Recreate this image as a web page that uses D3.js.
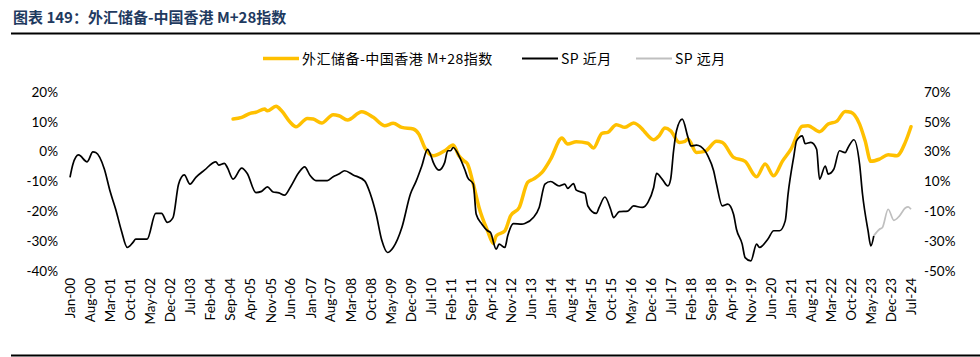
<!DOCTYPE html>
<html><head><meta charset="utf-8">
<script src="https://cdn.jsdelivr.net/npm/d3@7"></script>
<style>
html,body{margin:0;padding:0;background:#fff;}
svg{display:block;}
</style></head>
<body>
<svg id="chart" width="980" height="357"></svg>
<script>
// ---- data ----
const titleText = "图表 149：外汇储备-中国香港 M+28指数";
const seriesNames = ["外汇储备-中国香港 M+28指数", "SP 近月", "SP 远月"];
const tickLabels = ["Jan-00","Aug-00","Mar-01","Oct-01","May-02","Dec-02","Jul-03","Feb-04","Sep-04","Apr-05","Nov-05","Jun-06","Jan-07","Aug-07","Mar-08","Oct-08","May-09","Dec-09","Jul-10","Feb-11","Sep-11","Apr-12","Nov-12","Jun-13","Jan-14","Aug-14","Mar-15","Oct-15","May-16","Dec-16","Jul-17","Feb-18","Sep-18","Apr-19","Nov-19","Jun-20","Jan-21","Aug-21","Mar-22","Oct-22","May-23","Dec-23","Jul-24"];
const leftTicks = [20,10,0,-10,-20,-30,-40];
const rightTicks = [70,50,30,10,-10,-30,-50];

// SP 近月 (left axis, %)
const spNearDates = ["2000-01","2000-02","2000-04","2000-07","2000-09","2000-10","2001-01","2001-03","2001-05","2001-07","2001-09","2001-11","2001-12","2002-04","2002-07","2002-09","2002-11","2003-01","2003-03","2003-05","2003-07","2003-09","2003-12","2004-04","2004-05","2004-07","2004-08","2004-10","2005-01","2005-03","2005-06","2005-08","2005-10","2005-12","2006-02","2006-04","2006-06","2006-09","2006-11","2007-01","2007-03","2007-07","2007-09","2007-11","2008-01","2008-04","2008-08","2008-10","2008-12","2009-02","2009-04","2009-06","2009-09","2009-12","2010-02","2010-04","2010-06","2010-07","2010-08","2010-10","2010-12","2011-01","2011-02","2011-03","2011-05","2011-07","2011-08","2011-10","2011-11","2012-01","2012-03","2012-04","2012-06","2012-07","2012-09","2012-10","2012-12","2013-03","2013-04","2013-07","2013-09","2013-11","2014-01","2014-04","2014-06","2014-07","2014-09","2014-10","2015-01","2015-02","2015-05","2015-06","2015-08","2015-10","2015-11","2016-01","2016-04","2016-06","2016-09","2016-11","2017-01","2017-02","2017-04","2017-06","2017-07","2017-08","2017-09","2017-11","2018-01","2018-02","2018-04","2018-07","2018-08","2018-10","2018-11","2019-01","2019-03","2019-05","2019-06","2019-08","2019-09","2019-11","2020-01","2020-02","2020-05","2020-07","2020-09","2020-11","2020-12","2021-02","2021-03","2021-05","2021-06","2021-08","2021-10","2021-11","2022-01","2022-02","2022-04","2022-06","2022-08","2022-09","2022-11","2023-01","2023-02","2023-04","2023-05","2023-06"];
const spNearValues = [-8.6,-4.2,-1.1,-3.4,-0.1,-0.3,-5.9,-13.1,-19.3,-26.5,-32.1,-30.4,-29.3,-29.3,-20.7,-20.7,-23.7,-22.1,-10.9,-7.8,-10.9,-8.6,-6.2,-3.4,-4.5,-3.9,-5.3,-9.2,-5.5,-7.3,-13.7,-13.3,-11.8,-13.5,-13.8,-14.6,-12.0,-7.0,-5.1,-8.1,-9.7,-9.7,-8.4,-7.5,-6.4,-7.8,-9.8,-14.2,-20.9,-29.9,-33.8,-32.1,-25.4,-14.2,-9.8,-4.8,0.8,-0.8,-3.6,-6.2,-3.6,0.3,0.3,1.4,-1.4,-5.9,-8.6,-10.9,-21.0,-24.3,-26.5,-27.1,-32.7,-31.0,-32.1,-28.2,-24.1,-24.3,-24.1,-22.1,-18.7,-10.9,-10.0,-11.5,-10.9,-12.3,-10.7,-12.9,-14.0,-18.2,-20.7,-18.7,-15.2,-19.3,-22.1,-20.1,-19.9,-18.2,-18.7,-17.0,-12.0,-7.3,-9.2,-11.5,-9.2,0.3,7.0,10.9,4.8,1.9,2.2,0.3,-1.4,-6.4,-10.9,-18.2,-17.6,-21.0,-26.0,-31.0,-35.5,-36.6,-31.0,-32.1,-29.3,-26.5,-26.5,-23.2,-14.2,-1.4,3.6,5.3,2.7,3.1,0.8,-9.2,-4.8,-7.5,-5.9,0.3,-0.3,1.4,4.0,-4.2,-14.2,-26.5,-31.6,-28.2];

// SP 远月 (left axis, %)
const spFarDates = ["2023-06","2023-08","2023-09","2023-11","2024-01","2024-03","2024-05","2024-06","2024-07"];
const spFarValues = [-28.2,-26.0,-25.4,-19.3,-23.0,-21.5,-18.9,-18.5,-19.3];

// 外汇储备-中国香港 M+28指数 (right axis, %)
const fxDates = ["2004-10","2005-01","2005-04","2005-06","2005-09","2005-10","2006-01","2006-03","2006-06","2006-08","2006-12","2007-02","2007-05","2007-09","2007-11","2008-02","2008-07","2008-11","2009-03","2009-06","2009-09","2010-01","2010-03","2010-05","2010-08","2010-12","2011-03","2011-05","2011-07","2011-08","2011-10","2011-12","2012-03","2012-05","2012-06","2012-09","2012-11","2013-02","2013-05","2013-07","2013-10","2014-01","2014-05","2014-07","2014-10","2015-02","2015-04","2015-07","2015-09","2015-12","2016-03","2016-06","2016-09","2016-10","2017-01","2017-03","2017-05","2017-07","2017-10","2017-12","2018-01","2018-04","2018-07","2018-11","2019-01","2019-05","2019-09","2020-01","2020-04","2020-07","2020-10","2021-01","2021-05","2021-07","2021-11","2022-02","2022-05","2022-08","2022-10","2023-01","2023-03","2023-05","2023-08","2023-11","2024-02","2024-05","2024-07"];
const fxValues = [51.9,53.0,55.7,56.4,58.6,57.4,60.4,57.4,49.7,46.7,52.3,51.9,49.2,54.8,54.1,51.2,56.8,53.0,47.4,49.0,46.3,45.2,41.8,32.9,27.2,30.6,34.4,27.2,23.5,21.7,8.3,-7.4,-23.1,-31.5,-26.4,-23.1,-13.0,-7.4,9.4,11.6,16.1,25.0,39.1,35.1,36.6,35.6,32.4,42.3,43.0,48.1,46.3,49.2,45.2,43.0,38.0,40.7,45.8,44.0,36.2,36.9,38.5,29.5,30.2,36.9,36.2,26.2,23.5,13.2,21.7,13.8,23.5,31.7,47.0,47.4,43.4,48.5,50.3,57.0,56.4,48.5,37.3,23.5,25.0,27.9,27.2,36.2,46.7];

// ---- drawing ----
const svg = d3.select("#chart");
const parse = d3.timeParse("%Y-%m");
const lbl = d3.timeParse("%b-%y");

const x = d3.scaleTime()
  .domain([parse("2000-01"), parse("2024-07")])
  .range([70, 911]);
const yL = d3.scaleLinear().domain([-40, 20]).range([271, 92]);
const yR = d3.scaleLinear().domain([-50, 70]).range([271, 92]);

// title
svg.append("text")
  .attr("x", 13).attr("y", 23)
  .attr("font-family", "'Noto Sans CJK SC', 'Noto Sans', sans-serif")
  .attr("font-size", 15).attr("font-weight", "bold")
  .attr("fill", "#1F3A5F")
  .text(titleText);
svg.append("line").attr("x1", 11).attr("x2", 980).attr("y1", 33.5).attr("y2", 33.5)
  .attr("stroke", "#000").attr("stroke-width", 2);
svg.append("line").attr("x1", 11).attr("x2", 980).attr("y1", 355.5).attr("y2", 355.5)
  .attr("stroke", "#000").attr("stroke-width", 2);

const tickFont = "'Lato', 'DejaVu Sans', sans-serif";

// left axis
const axL = d3.axisLeft(yL).tickValues(leftTicks).tickSize(0).tickPadding(0)
  .tickFormat(d => d + "%");
const gL = svg.append("g").attr("transform", "translate(58,0)").call(axL);
gL.select(".domain").remove();
gL.selectAll("text").attr("font-family", tickFont).attr("font-size", 13.5).attr("fill", "#000");

// right axis
const axR = d3.axisRight(yR).tickValues(rightTicks).tickSize(0).tickPadding(0)
  .tickFormat(d => d + "%");
const gR = svg.append("g").attr("transform", "translate(924,0)").call(axR);
gR.select(".domain").remove();
gR.selectAll("text").attr("font-family", tickFont).attr("font-size", 13.5).attr("fill", "#000");

// x axis labels
const axX = d3.axisBottom(x).tickValues(tickLabels.map(lbl)).tickSize(0).tickPadding(0)
  .tickFormat(d3.timeFormat("%b-%y"));
const gX = svg.append("g").attr("transform", "translate(0,278)").call(axX);
gX.select(".domain").remove();
gX.selectAll("text")
  .attr("font-family", tickFont).attr("font-size", 13.5).attr("fill", "#000")
  .attr("text-anchor", "end")
  .attr("transform", "rotate(-90)")
  .attr("x", 0).attr("y", 0).attr("dy", "0.35em");

// lines
function mk(dates, vals) { return dates.map((d, i) => ({ d: parse(d), v: vals[i] })); }
const lineL = d3.line().x(p => x(p.d)).y(p => yL(p.v)).curve(d3.curveMonotoneX);
const lineR = d3.line().x(p => x(p.d)).y(p => yR(p.v)).curve(d3.curveMonotoneX);

svg.append("path").datum(mk(fxDates, fxValues)).attr("d", lineR)
  .attr("fill", "none").attr("stroke", "#FFC000").attr("stroke-width", 3.5)
  .attr("stroke-linejoin", "round").attr("stroke-linecap", "round");
svg.append("path").datum(mk(spNearDates, spNearValues)).attr("d", lineL)
  .attr("fill", "none").attr("stroke", "#000").attr("stroke-width", 1.7)
  .attr("stroke-linejoin", "round");
svg.append("path").datum(mk(spFarDates, spFarValues)).attr("d", lineL)
  .attr("fill", "none").attr("stroke", "#BFBFBF").attr("stroke-width", 1.7)
  .attr("stroke-linejoin", "round");

// legend
const legendItems = [
  { name: seriesNames[0], color: "#FFC000", w: 3.5, x: 263 },
  { name: seriesNames[1], color: "#000", w: 2, x: 522 },
  { name: seriesNames[2], color: "#BFBFBF", w: 2, x: 636 }
];
const lg = svg.append("g");
legendItems.forEach(it => {
  lg.append("line").attr("x1", it.x).attr("x2", it.x + 36).attr("y1", 58.5).attr("y2", 58.5)
    .attr("stroke", it.color).attr("stroke-width", it.w);
  lg.append("text").attr("x", it.x + 39).attr("y", 63.5)
    .attr("font-family", "'Noto Sans CJK SC', sans-serif").attr("font-size", 14)
    .attr("letter-spacing", 0.5)
    .attr("fill", "#000").text(it.name);
});
</script>
</body></html>
